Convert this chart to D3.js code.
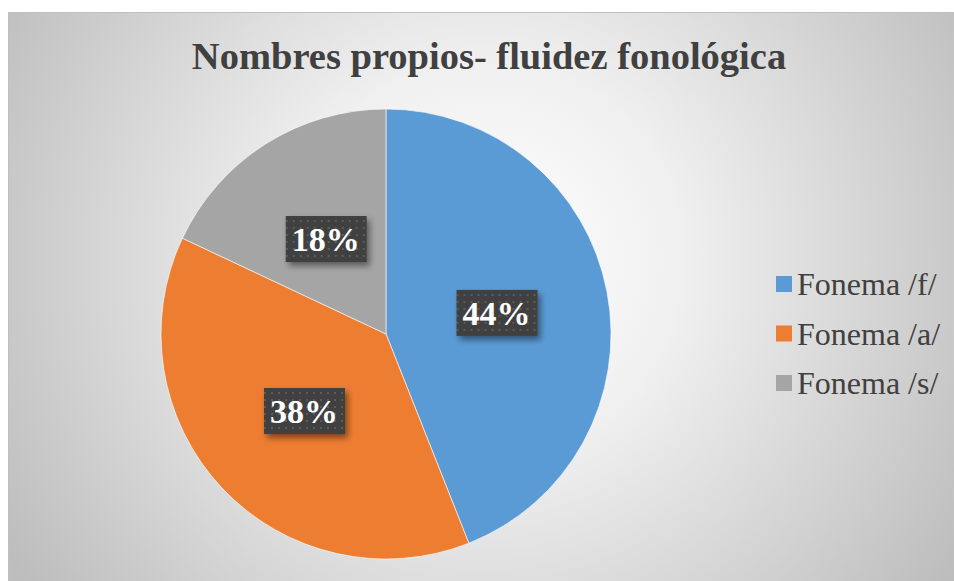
<!DOCTYPE html>
<meta charset="utf-8">
<script src="https://d3js.org/d3.v7.min.js"></script>
<style>
body { margin: 0; background: #fff; }
svg { display: block; }
</style>
<body>
<script>

var categories = ["Fonema /f/", "Fonema /a/", "Fonema /s/"],
    values = [44, 38, 18],
    colors = ["#5b9bd5", "#ed7d31", "#a5a5a5"],
    title = "Nombres propios- fluidez fonológica";

var width = 954,
    height = 581,
    cx = 386, cy = 334, radius = 225;

var svg = d3.select("body").append("svg")
    .attr("width", width)
    .attr("height", height);

var defs = svg.append("defs");

var grad = defs.append("radialGradient")
    .attr("id", "bg")
    .attr("gradientUnits", "userSpaceOnUse")
    .attr("cx", 485).attr("cy", 260).attr("r", 560);
grad.append("stop").attr("offset", "0").attr("stop-color", "#ffffff");
grad.append("stop").attr("offset", "0.35").attr("stop-color", "#f0f0f0");
grad.append("stop").attr("offset", "1").attr("stop-color", "#bdbdbd");

// dotted fill of the label boxes
var pat = defs.append("pattern")
    .attr("id", "dots")
    .attr("patternUnits", "userSpaceOnUse")
    .attr("width", 7).attr("height", 7);
pat.append("rect").attr("width", 7).attr("height", 7).attr("fill", "#3f3f3f");
pat.append("rect").attr("x", 2).attr("y", 2).attr("width", 2).attr("height", 2).attr("fill", "#5c5c5c");

var shadow = defs.append("filter").attr("id", "shadow")
    .attr("x", "-20%").attr("y", "-20%").attr("width", "150%").attr("height", "160%");
shadow.append("feDropShadow")
    .attr("dx", 3).attr("dy", 4).attr("stdDeviation", 3)
    .attr("flood-color", "#000").attr("flood-opacity", 0.45);

svg.append("rect")
    .attr("x", 8.5).attr("y", 12.5)
    .attr("width", width).attr("height", height)
    .attr("fill", "url(#bg)")
    .attr("stroke", "#bfbfbf");

svg.append("text")
    .attr("x", 489).attr("y", 69)
    .attr("text-anchor", "middle")
    .attr("font-family", "'Liberation Serif', 'Times New Roman', serif")
    .attr("font-weight", "bold")
    .attr("font-size", 38.5)
    .attr("fill", "#404040")
    .text(title);

var pie = d3.pie().sort(null).value(function(d) { return d; });
var arcs = pie(values);
var arc = d3.arc().innerRadius(0).outerRadius(radius);
var labelArc = d3.arc().innerRadius(radius * 0.5).outerRadius(radius * 0.5);

var g = svg.append("g").attr("transform", "translate(" + cx + "," + cy + ")");

g.selectAll(".slice")
    .data(arcs)
    .enter().append("path")
    .attr("class", "slice")
    .attr("d", arc)
    .attr("fill", function(d, i) { return colors[i]; })
    .attr("stroke", "#ffffff")
    .attr("stroke-width", 0.6);

var total = d3.sum(values);

var label = g.selectAll(".label")
    .data(arcs)
    .enter().append("g")
    .attr("class", "label")
    .attr("transform", function(d) { return "translate(" + labelArc.centroid(d) + ")"; });

label.append("rect")
    .attr("x", -40).attr("y", -23)
    .attr("width", 81).attr("height", 46)
    .attr("fill", "url(#dots)")
    .attr("filter", "url(#shadow)");

label.append("text")
    .attr("text-anchor", "middle")
    .attr("dy", "0.35em")
    .attr("font-family", "'Liberation Serif', 'Times New Roman', serif")
    .attr("font-weight", "bold")
    .attr("font-size", 34)
    .attr("fill", "#ffffff")
    .text(function(d) { return Math.round(d.value / total * 100) + "%"; });

var legend = svg.selectAll(".legend")
    .data(categories)
    .enter().append("g")
    .attr("class", "legend")
    .attr("transform", function(d, i) { return "translate(776," + (284 + i * 49.5) + ")"; });

legend.append("rect")
    .attr("x", 0).attr("y", -8)
    .attr("width", 16).attr("height", 16)
    .attr("fill", function(d, i) { return colors[i]; });

legend.append("text")
    .attr("x", 21).attr("dy", "0.35em")
    .attr("font-family", "'Liberation Serif', 'Times New Roman', serif")
    .attr("font-size", 32)
    .attr("fill", "#404040")
    .text(function(d) { return d; });

</script>
</body>
